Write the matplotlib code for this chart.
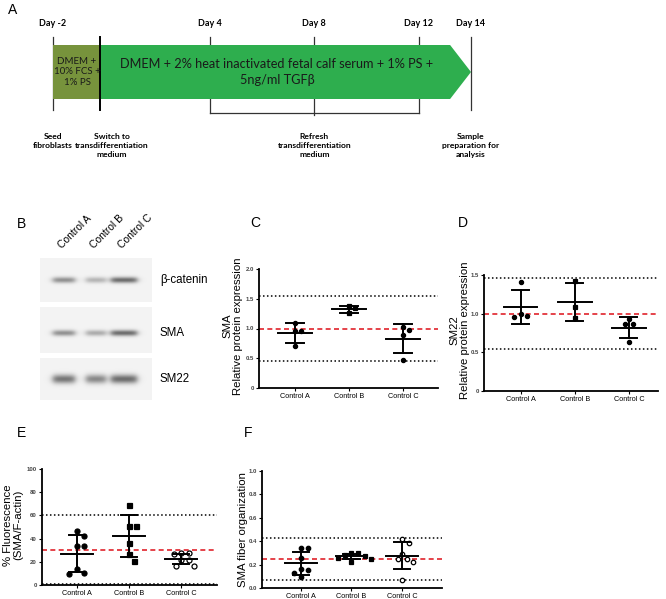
import numpy as np
import matplotlib
matplotlib.use('Agg')
import matplotlib.pyplot as plt
from matplotlib.patches import Polygon, Rectangle

plt.rcParams['font.family'] = ['Liberation Sans', 'DejaVu Sans']

W, H = 666, 599

# ---- A: timeline ----
day_ticks = [-2, 4, 8, 12, 14]
day_labels = ['Day -2', 'Day 4', 'Day 8', 'Day 12', 'Day 14']
switch_day = -0.2
refresh_span = [4, 12]
arrow_body_end = 13.2
pre_text = 'DMEM +\n10% FCS +\n1% PS'
main_text = 'DMEM + 2% heat inactivated fetal calf serum + 1% PS +\n5ng/ml TGFβ'
event_days = [-2, 0.26, 8, 14]
event_texts = ['Seed\nfibroblasts',
               'Switch to\ntransdifferentiation\nmedium',
               'Refresh\ntransdifferentiation\nmedium',
               'Sample\npreparation for\nanalysis']

# ---- B: western blot ----
lanes = ['Control A', 'Control B', 'Control C']
blots = ['β-catenin', 'SMA', 'SM22']
band_int = [[0.55, 0.35, 0.75],
            [0.55, 0.40, 0.75],
            [0.70, 0.60, 0.75]]

# ---- C-F: scatter with mean +/- SD ----
groups = ['Control A', 'Control B', 'Control C']

sma_pts = [[1.10, 0.95, 0.95, 0.70], [1.38, 1.35, 1.26], [1.03, 0.97, 0.89, 0.47]]
sma_mean = [0.92, 1.32, 0.83]
sma_sd = [0.17, 0.065, 0.24]
sma_ref = [1.54, 1.0, 0.46]

sm22_pts = [[1.41, 0.99, 0.96, 0.97], [1.42, 1.09, 0.95], [0.93, 0.86, 0.86, 0.63]]
sm22_mean = [1.08, 1.15, 0.82]
sm22_sd = [0.22, 0.245, 0.135]
sm22_ref = [1.46, 1.0, 0.54]

fluo_pts = [[46.8, 42.5, 34.0, 33.6, 13.5, 9.5, 10.3],
            [69.3, 50.9, 50.9, 36.0, 26.4, 21.0],
            [27.9, 26.7, 27.9, 21.6, 21.6, 16.7, 16.7]]
fluo_mean = [27.0, 42.5, 22.5]
fluo_sd = [16.0, 18.1, 4.0]
fluo_ref = [60.5, 30.0, 1.0]

fiber_pts = [[0.34, 0.34, 0.26, 0.15, 0.13, 0.165, 0.095],
             [0.30, 0.285, 0.27, 0.30, 0.255, 0.225, 0.25],
             [0.42, 0.385, 0.29, 0.25, 0.25, 0.22, 0.065]]
fiber_mean = [0.21, 0.272, 0.276]
fiber_sd = [0.098, 0.022, 0.116]
fiber_ref = [0.43, 0.25, 0.065]


fig = plt.figure(figsize=(W / 100, H / 100), dpi=100)
ax0 = fig.add_axes([0, 0, 1, 1])
ax0.axis('off')


def dx(d):
    # day -> pixel
    return 53 + (d + 2) * 26.125


lato = ['Lato', 'DejaVu Sans']
top, bot = 45, 99
# lines behind the boxes
for d in day_ticks:
    y2 = 115 if d == 8 else (113 if d in refresh_span else 110)
    ax0.plot([dx(d), dx(d)], [37, y2], color='#333333', lw=0.9, zorder=1)
    ax0.text(dx(d), 24, day_labels[day_ticks.index(d)], ha='center', va='center',
             fontsize=6.5, fontweight='bold', family=lato)
ax0.plot([dx(refresh_span[0]), dx(refresh_span[1])], [113, 113], color='#333333', lw=0.9, zorder=1)
ax0.add_patch(Rectangle((dx(-2), top), dx(switch_day) - dx(-2), bot - top,
                        facecolor='#77933c', edgecolor='none', zorder=2))
ax0.add_patch(Polygon([(dx(switch_day), top), (dx(arrow_body_end), top),
                       (dx(14), (top + bot) / 2), (dx(arrow_body_end), bot),
                       (dx(switch_day), bot)], closed=True,
                      facecolor='#2eae4e', edgecolor='none', zorder=2))
ax0.plot([dx(switch_day)] * 2, [37, 110], color='black', lw=1.4, zorder=3)
ax0.text((dx(-2) + dx(switch_day)) / 2 + 0.5, 72, pre_text, ha='center', va='center',
         fontsize=7.0, family=lato, color='#1a1a1a', linespacing=1.2, zorder=4)
ax0.text(277, 72, main_text, ha='center', va='center', fontsize=9.2,
         family=lato, color='#1a1a1a', linespacing=1.3, zorder=4)
for d, t in zip(event_days, event_texts):
    ax0.text(dx(d), 133, t, ha='center', va='top', fontsize=6.1,
             fontweight='bold', family=lato, linespacing=1.35)

# panel letters
for s, (x, y) in zip('ABCDEF', [(13, 10), (22, 224), (255, 223),
                               (463, 223), (22, 433), (248, 433)]):
    ax0.text(x, y, s, ha='center', va='center', fontsize=10)

# ---- B ----
strip_y = [(258, 302, 280, 3.0), (307, 353, 333, 3.0), (358, 400, 379, 4.5)]
lane_x = [64, 96, 124]
lane_hw = [11, 10, 13]
sx0, sx1 = 40, 152
xs = np.arange(sx0, sx1) + 0.5
for bi, (y0, y1, yc, sy) in enumerate(strip_y):
    ys = np.arange(y0, y1) + 0.5
    X, Y = np.meshgrid(xs, ys)
    dens = np.zeros_like(X)
    for li, xc in enumerate(lane_x):
        hw = lane_hw[li]
        bx = 1 / (1 + np.exp(-(X - (xc - hw)) / 1.8)) * 1 / (1 + np.exp((X - (xc + hw)) / 1.8))
        dens += band_int[bi][li] * bx * np.exp(-((Y - yc) / sy) ** 2)
    img = 0.955 - 0.7 * np.clip(dens, 0, 1)
    rgb = np.dstack([img, img, img])
    ax0.imshow(rgb, extent=(sx0, sx1, y1, y0), aspect='auto', interpolation='bilinear', zorder=1)
    ax0.text(160, yc, blots[bi], ha='left', va='center', fontsize=8.3)
for li, xc in enumerate(lane_x):
    ax0.text(xc - 1, 250, lanes[li], rotation=45, rotation_mode='anchor',
             ha='left', va='bottom', fontsize=7.5)
ax0.set_xlim(0, W)
ax0.set_ylim(H, 0)


def swarm(vals, ppu_y, ppu_x, d):
    # greedy beeswarm: place each point at the nearest free horizontal offset
    vals = np.asarray(vals, float)
    order = np.argsort(-vals, kind='stable')
    placed = []
    off = np.zeros(len(vals))
    cands = [0.0]
    for k in range(1, 12):
        cands += [k * d / 2, -k * d / 2]
    for i in order:
        y = vals[i] * ppu_y
        for c in cands:
            if all((c - px) ** 2 + (y - py) ** 2 >= (1.45 * d) ** 2 for px, py in placed):
                break
        placed.append((c, y))
        off[i] = c / ppu_x
    return off


def dot_panel(box, pts, mean, sd, ref, ylim, yticks, yticklabels, xlim,
              markers, ms, ylabel, label_xy):
    l, t, r, b = box
    ax = fig.add_axes([l / W, 1 - b / H, (r - l) / W, (b - t) / H])
    ax.set_facecolor('none')
    ax.set_xlim(*xlim)
    ax.set_ylim(*ylim)
    ppu_x = (r - l) / (xlim[1] - xlim[0])
    ppu_y = (b - t) / (ylim[1] - ylim[0])
    ax.axhline(ref[0], color='black', ls=(0, (1, 1.6)), lw=1.1, zorder=1)
    ax.axhline(ref[2], color='black', ls=(0, (1, 1.6)), lw=1.1, zorder=1)
    ax.axhline(ref[1], color='#e0232b', ls=(0, (3, 2)), lw=1.2, zorder=1)
    for i in range(3):
        off = swarm(pts[i], ppu_y, ppu_x, ms / 0.72)
        mk, filled = markers[i]
        ax.plot(i + off, pts[i], ls='none', marker=mk, ms=ms,
                mfc='black' if filled else 'white', mec='black', mew=0.9, zorder=3)
        ax.plot([i - 0.31, i + 0.31], [mean[i]] * 2, color='black', lw=1.4, zorder=4)
        ax.plot([i, i], [mean[i] - sd[i], mean[i] + sd[i]], color='black', lw=1.4, zorder=4)
        for e in (mean[i] - sd[i], mean[i] + sd[i]):
            ax.plot([i - 0.16, i + 0.16], [e, e], color='black', lw=1.4, zorder=4)
    for s in ('top', 'right'):
        ax.spines[s].set_visible(False)
    for s in ('left', 'bottom'):
        ax.spines[s].set_linewidth(1.3)
    ax.set_xticks(range(3))
    ax.set_xticklabels(groups, fontsize=5.2)
    ax.set_yticks(yticks)
    ax.set_yticklabels(yticklabels, fontsize=4.3, color='#444444', fontweight='bold')
    ax.tick_params(axis='both', length=2.2, width=0.8, pad=1.5)
    ax0.text(label_xy[0], label_xy[1], ylabel, rotation=90, ha='center', va='center',
             fontsize=8.2, linespacing=1.1)
    return ax


fill = [('o', True), ('s', True), ('o', True)]
fill_open = [('o', True), ('s', True), ('o', False)]

dot_panel((259, 269, 438, 388), sma_pts, sma_mean, sma_sd, sma_ref, (0, 2.0),
          [0, 0.5, 1.0, 1.5, 2.0], ['0', '0.5', '1.0', '1.5', '2.0'], (-0.67, 2.65),
          fill, 3.0, 'SMA\nRelative protein expression', (233, 326))
dot_panel((484, 275, 658, 391), sm22_pts, sm22_mean, sm22_sd, sm22_ref, (0, 1.5),
          [0, 0.5, 1.0, 1.5], ['0', '0.5', '1.0', '1.5'], (-0.68, 2.54),
          fill, 3.0, 'SM22\nRelative protein expression', (460, 330))
dot_panel((42, 469, 217, 585), fluo_pts, fluo_mean, fluo_sd, fluo_ref, (0, 100),
          [0, 20, 40, 60, 80, 100], ['0', '20', '40', '60', '80', '100'], (-0.67, 2.69),
          fill_open, 3.6, '% Fluorescence\n(SMA/F-actin)', (13, 525))
dot_panel((262, 471, 442, 588), fiber_pts, fiber_mean, fiber_sd, fiber_ref, (0, 1.0),
          [0, 0.2, 0.4, 0.6, 0.8, 1.0], ['0.0', '0.2', '0.4', '0.6', '0.8', '1.0'],
          (-0.77, 2.79), fill_open, 3.2, 'SMA fiber organization', (243, 530))

fig.savefig('out.png', dpi=100)
